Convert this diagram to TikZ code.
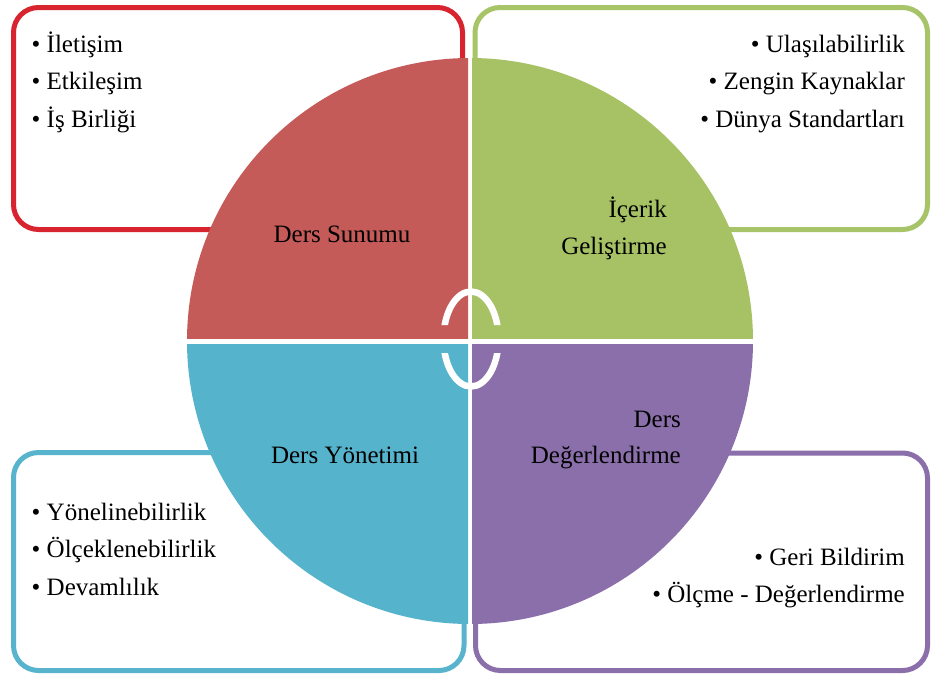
\documentclass[tikz,border=0pt]{standalone}
\usepackage{fontspec}
\setmainfont{Liberation Serif}
\definecolor{qred}{HTML}{C55B59}
\definecolor{qgreen}{HTML}{A6C265}
\definecolor{qblue}{HTML}{56B3CC}
\definecolor{qpurple}{HTML}{8B6FAA}
\definecolor{bred}{HTML}{D8242F}
\definecolor{bgreen}{HTML}{A8C468}
\definecolor{bblue}{HTML}{58B4CD}
\definecolor{bpurple}{HTML}{8B6FAA}
\begin{document}
\begin{tikzpicture}[x=1pt,y=-1pt,
  box/.style={line width=5pt, rounded corners=25pt, fill=white},
  lbl/.style={inner sep=0pt, font=\fontsize{25}{30}\selectfont, text=black},
  ring/.style={white, line width=6.5pt}
]
\useasboundingbox (0,0) rectangle (944,673);
\fill[white] (0,0) rectangle (944,673);
% boxes
\draw[box, draw=bred]    (13.5,7.5)   rectangle (462.5,229.5);
\draw[box, draw=bgreen]  (475,7.5)    rectangle (927.5,229.5);
\draw[box, draw=bblue]   (13.5,452.5) rectangle (464,670.5);
\draw[box, draw=bpurple] (475.5,453)  rectangle (927.5,670.5);
% quadrants
\begin{scope}
  \clip (0,0) rectangle (468,338);
  \fill[qred] (470,341) circle[radius=283];
\end{scope}
\begin{scope}
  \clip (472,0) rectangle (944,338);
  \fill[qgreen] (470,341) circle[radius=283];
\end{scope}
\begin{scope}
  \clip (0,344) rectangle (468,673);
  \fill[qblue] (470,341) circle[radius=283];
\end{scope}
\begin{scope}
  \clip (472,344) rectangle (944,673);
  \fill[qpurple] (470,341) circle[radius=283];
\end{scope}
% center ring
\begin{scope}
  \clip (430,270) rectangle (512,325) (430,353) rectangle (512,410);
  \draw[ring] (471,339) ellipse[x radius=27.5, y radius=47.5];
\end{scope}
% quadrant labels
\node[lbl, anchor=base] (q1) at (342,242) {Ders Sunumu};
\node[lbl, anchor=base east] (q2a) at (667,217) {İçerik};
\node[lbl, anchor=base east] (q2b) at (667,254) {Geliştirme};
\node[lbl, anchor=base] (q3) at (345,463) {Ders Yönetimi};
\node[lbl, anchor=base east] (q4a) at (681,427) {Ders};
\node[lbl, anchor=base east] (q4b) at (681,463) {Değerlendirme};
% box items
\node[lbl, anchor=base west] (a1) at (31.5,52)  {• İletişim};
\node[lbl, anchor=base west] (a2) at (31.5,89)  {• Etkileşim};
\node[lbl, anchor=base west] (a3) at (31.5,127) {• İş Birliği};
\node[lbl, anchor=base east] (b1) at (905,52)  {• Ulaşılabilirlik};
\node[lbl, anchor=base east] (b2) at (905,89)  {• Zengin Kaynaklar};
\node[lbl, anchor=base east] (b3) at (905,127) {• Dünya Standartları};
\node[lbl, anchor=base west] (c1) at (31.5,520) {• Yönelinebilirlik};
\node[lbl, anchor=base west] (c2) at (31.5,557) {• Ölçeklenebilirlik};
\node[lbl, anchor=base west] (c3) at (31.5,595) {• Devamlılık};
\node[lbl, anchor=base east] (d1) at (905,565) {• Geri Bildirim};
\node[lbl, anchor=base east] (d2) at (905,602) {• Ölçme - Değerlendirme};
\end{tikzpicture}
\end{document}
